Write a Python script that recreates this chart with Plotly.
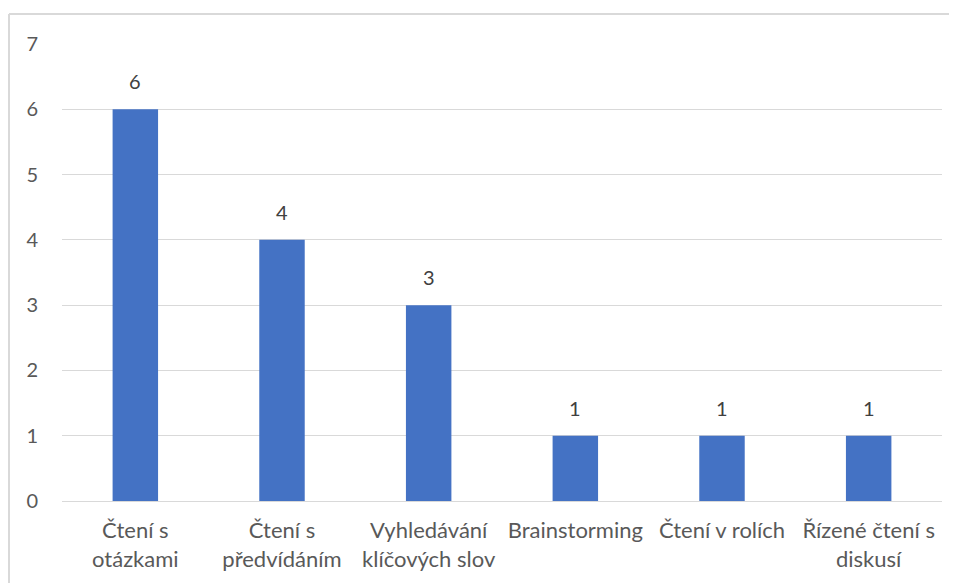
import plotly.graph_objects as go

categories = ["Čtení s<br>otázkami", "Čtení s<br>předvídáním", "Vyhledávání<br>klíčových slov",
              "Brainstorming", "Čtení v rolích", "Řízené čtení s<br>diskusí"]
values = [6, 4, 3, 1, 1, 1]
y_ticks = [0, 1, 2, 3, 4, 5, 6, 7]

OFF = 8  # default body margin of the html page
W, H = 957 - OFF, 583 - OFF
ml, mr, mt, mb = 62 - OFF, 15, 44 - OFF, 82
pw, ph = W - ml - mr, H - mt - mb

fig = go.Figure(go.Bar(
    x=categories, y=values,
    marker=dict(color="#4472C4", line=dict(width=0)),
    width=0.31, hoverinfo="x+y",
))

for c, v in zip(categories, values):
    fig.add_annotation(x=c, y=v, text=str(v), showarrow=False, yanchor="bottom", yshift=14,
                       font=dict(family="Lato", size=20, color="#404040"))

# frame (only top and left edges visible)
fx = (9 - OFF - ml) / pw
fy = (H - mb - (14 - OFF)) / ph
fig.add_shape(type="line", xref="paper", yref="paper", x0=fx, x1=(W - ml) / pw, y0=fy, y1=fy,
              line=dict(color="#d9d9d9", width=2))
fig.add_shape(type="line", xref="paper", yref="paper", x0=fx, x1=fx, y0=fy, y1=-mb / ph,
              line=dict(color="#d9d9d9", width=2))

fig.update_layout(
    width=W, height=H,
    margin=dict(l=ml, r=mr, t=mt, b=mb),
    paper_bgcolor="white", plot_bgcolor="white",
    showlegend=False,
    font=dict(family="Lato", size=20, color="#595959"),
    xaxis=dict(showgrid=False, showline=False, ticks="", ticklabelstandoff=14,
               tickfont=dict(size=22, color="#595959")),
    yaxis=dict(range=[0, 7], tickvals=y_ticks, showgrid=True, gridcolor="#d9d9d9", gridwidth=1,
               zeroline=True, zerolinecolor="#d9d9d9", zerolinewidth=1, showline=False,
               ticks="", ticklabelstandoff=23, tickfont=dict(size=20, color="#595959")),
)

fig.write_html("out.html")
